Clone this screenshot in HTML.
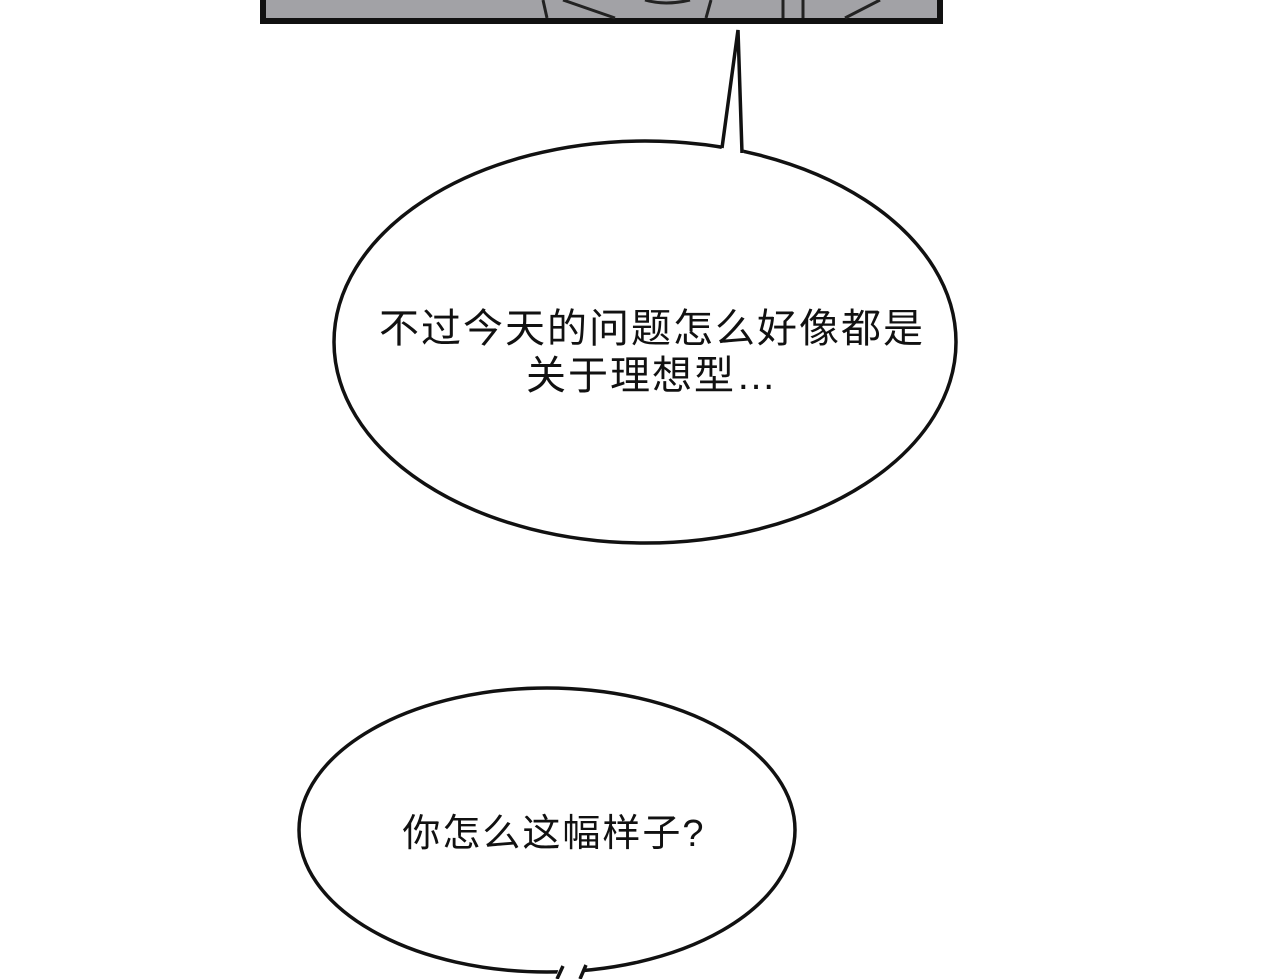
<!DOCTYPE html>
<html><head><meta charset="utf-8"><style>
html,body{margin:0;padding:0;background:#fff;width:1280px;height:979px;overflow:hidden}
svg{display:block}
text{font-family:"Liberation Sans","Noto Sans CJK SC",sans-serif;fill:#111}
</style></head><body>
<svg width="1280" height="979" viewBox="0 0 1280 979" xmlns="http://www.w3.org/2000/svg">
<rect x="263" y="-5" width="677" height="26" fill="#a2a2a6" stroke="#111" stroke-width="6"/>
<g stroke="#222" stroke-width="3" fill="none">
<path d="M543 0 L547 18"/>
<path d="M563 0 L615 18"/>
<path d="M645 0 Q665 6 690 0"/>
<path d="M711 0 L706 18"/>
<path d="M783 0 L783 18"/>
<path d="M803 0 L803 18"/>
<path d="M880 0 L845 18"/>
</g>
<g stroke="#111" stroke-width="3.5" fill="#fff">
<ellipse cx="645" cy="342" rx="311" ry="201"/>
<ellipse cx="547" cy="830" rx="248" ry="142"/>
</g>
<polygon points="720,160 738,30 744,160" fill="#fff"/>
<path d="M722 148 L738 30 L742 153" stroke="#111" stroke-width="3.5" fill="none" stroke-linejoin="miter"/>
<polygon points="562,960 555,979 582,979 588,960" fill="#fff"/>
<path d="M563 966 L557 979 M580 979 L586 965" stroke="#111" stroke-width="3.5" fill="none"/>
<text x="652" y="342" font-size="40" letter-spacing="2" text-anchor="middle">不过今天的问题怎么好像都是</text>
<text x="652" y="389" font-size="40" letter-spacing="2" text-anchor="middle">关于理想型…</text>
<text x="554" y="846" font-size="38" letter-spacing="2" text-anchor="middle">你怎么这幅样子?</text>
</svg>
</body></html>
